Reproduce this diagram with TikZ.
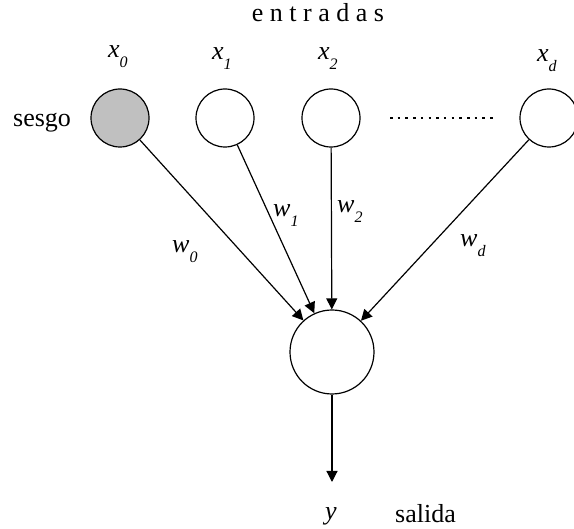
\documentclass[tikz,border=0pt]{standalone}
\usepackage{fontspec}
\setmainfont{Liberation Serif}
\usetikzlibrary{arrows.meta}
\newcommand{\sublab}[2]{\textit{#1}\raisebox{-10pt}{\fontsize{16}{16}\selectfont\textit{#2}}}
\begin{document}
\begin{tikzpicture}[x=1pt,y=1pt,
  neuron/.style={circle,draw,line width=1.2pt,minimum size=58pt,inner sep=0pt},
  outneuron/.style={circle,draw,line width=1.2pt,minimum size=84pt,inner sep=0pt},
  conn/.style={line width=1.2pt,-{Triangle[length=11pt,width=11pt]}},
  lab/.style={anchor=base west,inner sep=0pt,font=\fontsize{26}{26}\selectfont}]
\useasboundingbox (0,0) rectangle (574,-529);
\node[lab,anchor=base] (entr) at (318,-22) {e n t r a d a s};
\node[neuron,fill={rgb,255:red,192;green,192;blue,192}] (n0) at (120,-118) {};
\node[neuron] (n1) at (225,-118) {};
\node[neuron] (n2) at (331,-118) {};
\node[neuron] (nd) at (549,-118) {};
\node[outneuron] (out) at (332,-352) {};
\node[lab] (lx0) at (108,-58) {\sublab{x}{0}};
\node[lab] (lx1) at (212,-60) {\sublab{x}{1}};
\node[lab] (lx2) at (318,-60) {\sublab{x}{2}};
\node[lab] (lxd) at (537,-62) {\sublab{x}{d}};
\node[lab] (ses) at (13,-127) {sesgo};
\coordinate (dotA) at (390,-118);
\coordinate (dotB) at (494,-118);
\draw[line width=1.2pt,dash pattern=on 2.5pt off 5.2pt] (dotA) -- (dotB);
\draw[conn] (n0) -- (out);
\draw[conn] (n1) -- (out);
\draw[conn] (n2) -- (out);
\draw[conn] (nd) -- (out);
\node[lab] (lw0) at (172,-253) {\sublab{w}{0}};
\node[lab] (lw1) at (273,-217) {\sublab{w}{1}};
\node[lab] (lw2) at (337,-213) {\sublab{w}{2}};
\node[lab] (lwd) at (460,-247) {\sublab{w}{d}};
\coordinate (yend) at (332,-482);
\draw[conn] (out) -- (yend);
\node[lab] (ly) at (325,-520) {\textit{y}};
\node[lab] (sal) at (395,-523) {salida};
\end{tikzpicture}
\end{document}
